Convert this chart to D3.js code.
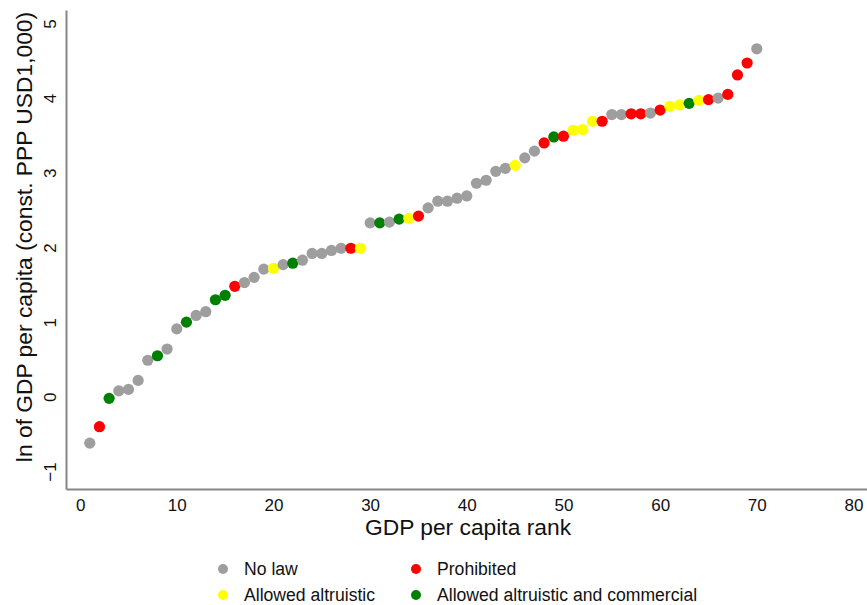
<!DOCTYPE html>
<html>
<head>
<meta charset="utf-8">
<script src="https://cdn.jsdelivr.net/npm/d3@7"></script>
<style>
  html, body { margin: 0; padding: 0; background: #fff; }
  svg { display: block; font-family: "Liberation Sans", Arial, sans-serif; }
</style>
</head>
<body>
<svg id="chart" width="867" height="605"></svg>
<script>
// ---- data ----
const ranks = d3.range(1, 71);
const lnGdp = [
  -0.62, -0.40, -0.02, 0.08, 0.10, 0.22, 0.49, 0.55, 0.64, 0.91,
   1.00,  1.09,  1.14, 1.30, 1.36, 1.48, 1.53, 1.60, 1.71, 1.72,
   1.77,  1.79,  1.83, 1.92, 1.92, 1.96, 1.99, 1.99, 1.99, 2.33,
   2.33,  2.34,  2.38, 2.39, 2.42, 2.53, 2.62, 2.62, 2.66, 2.69,
   2.86,  2.90,  3.02, 3.06, 3.10, 3.20, 3.29, 3.40, 3.48, 3.49,
   3.57,  3.58,  3.69, 3.69, 3.78, 3.78, 3.79, 3.79, 3.80, 3.84,
   3.89,  3.91,  3.93, 3.97, 3.98, 4.00, 4.05, 4.31, 4.47, 4.66
];
const lawStatus = [
  "N","P","C","N","N","N","N","C","N","N",
  "C","N","N","C","C","P","N","N","N","A",
  "N","C","N","N","N","N","N","P","A","N",
  "C","N","C","A","P","N","N","N","N","N",
  "N","N","N","N","A","N","N","P","C","P",
  "A","A","A","P","N","N","P","P","N","P",
  "A","A","C","A","P","N","P","P","P","N"
];
const categoryCodes = ["N", "P", "A", "C"];
const categoryLabels = ["No law", "Prohibited", "Allowed altruistic", "Allowed altruistic and commercial"];
const categoryColors = ["#9e9e9e", "#ff0000", "#ffff00", "#008000"];
const xTicks = [0, 10, 20, 30, 40, 50, 60, 70, 80];
const yTicks = [-1, 0, 1, 2, 3, 4, 5];
const xTitle = "GDP per capita rank";
const yTitle = "ln of GDP per capita (const. PPP USD1,000)";

// ---- layout ----
const svg = d3.select("#chart");
const mLeft = 66, mRight = 867, mTop = 10, mBottom = 489;

const x = d3.scaleLinear().domain([-1.46, 81.4]).range([mLeft, mRight]);
const y = d3.scaleLinear().domain([-1.234, 5.18]).range([mBottom, mTop]);
const color = d3.scaleOrdinal().domain(categoryCodes).range(categoryColors);

// axes
const xAxis = svg.append("g")
  .attr("transform", `translate(0,${mBottom})`)
  .call(d3.axisBottom(x).tickValues(xTicks).tickSize(0).tickSizeOuter(0).tickPadding(10));
const yAxis = svg.append("g")
  .attr("transform", `translate(${mLeft},0)`)
  .call(d3.axisLeft(y).tickValues(yTicks).tickSize(0).tickSizeOuter(0).tickFormat(d3.format("d")));

[xAxis, yAxis].forEach(a => {
  a.select(".domain").attr("stroke", "#878787").attr("stroke-width", 2);
  a.selectAll("text").attr("font-size", 17).attr("fill", "#111")
    .attr("font-family", "'Liberation Sans', Arial, sans-serif");
});
yAxis.selectAll(".tick text")
  .attr("x", null).attr("dy", null)
  .attr("text-anchor", "middle")
  .attr("transform", "translate(-16,0) rotate(-90)")
  .attr("dy", "0.35em");

// titles
svg.append("text")
  .attr("x", 468).attr("y", 535)
  .attr("text-anchor", "middle")
  .attr("font-size", 22.8).attr("fill", "#111")
  .text(xTitle);
svg.append("text")
  .attr("transform", "translate(32,237) rotate(-90)")
  .attr("text-anchor", "middle")
  .attr("font-size", 22.8).attr("fill", "#111")
  .text(yTitle);

// points
const pts = ranks.map((r, i) => ({ r, v: lnGdp[i], c: lawStatus[i] }));
svg.append("g").selectAll("circle")
  .data(pts)
  .join("circle")
  .attr("cx", d => x(d.r))
  .attr("cy", d => y(d.v))
  .attr("r", 5.6)
  .attr("fill", d => color(d.c));

// legend
const legendPos = [[223, 569], [416, 569], [223, 595], [416, 595]];
const lg = svg.append("g");
categoryCodes.forEach((c, i) => {
  const [lx, ly] = legendPos[i];
  lg.append("circle").attr("cx", lx).attr("cy", ly).attr("r", 5).attr("fill", color(c));
  lg.append("text").attr("x", lx + 21).attr("y", ly + 6)
    .attr("font-size", 17.6).attr("fill", "#111").text(categoryLabels[i]);
});
</script>
</body>
</html>
